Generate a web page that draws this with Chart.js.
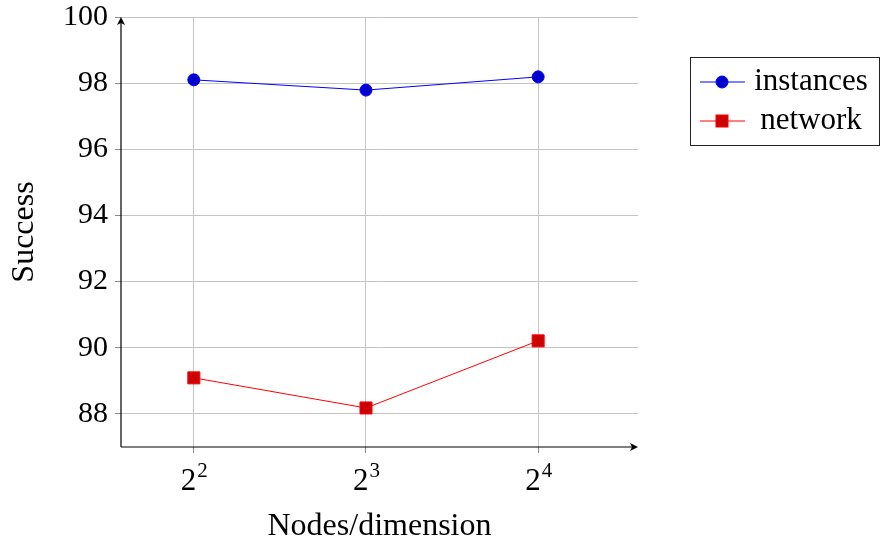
<!DOCTYPE html>
<html>
<head>
<meta charset="utf-8">
<script src="https://cdn.jsdelivr.net/npm/chart.js@4"></script>
<style>
    html, body { margin: 0; padding: 0; background: #fff; }
</style>
</head>
<body>
<canvas id="success-chart" width="880" height="547"></canvas>
<script>
// x is the exponent: nodes/dimension = 2^x
const xValues = [2, 3, 4];
const xTickBases = ['2', '2', '2'];
const xTickExponents = ['2', '3', '4'];
const yTicks = [88, 90, 92, 94, 96, 98, 100];
const instancesValues = [98.1, 97.79, 98.19];
const networkValues = [89.09, 88.18, 90.21];
const seriesLabels = ['instances', 'network'];

const FONT = '"Liberation Serif", "Times New Roman", serif';

function arrowHead (ctx, x, y, dir) {
    // small stealth-like arrow pointing "up" or "right"
    ctx.beginPath();
    if (dir === 'up') {
        ctx.moveTo(x, y);
        ctx.lineTo(x - 4, y + 8);
        ctx.lineTo(x, y + 6);
        ctx.lineTo(x + 4, y + 8);
    } else {
        ctx.moveTo(x, y);
        ctx.lineTo(x - 8, y - 4);
        ctx.lineTo(x - 6, y);
        ctx.lineTo(x - 8, y + 4);
    }
    ctx.closePath();
    ctx.fill();
}

const axesAndLegend = {
    id: 'axesAndLegend',
    afterDraw: (chart) => {
        const ctx = chart.ctx;
        const area = chart.chartArea;
        const xScale = chart.scales.x;
        ctx.save();

        // axis lines with arrows
        ctx.strokeStyle = '#000';
        ctx.fillStyle = '#000';
        ctx.lineWidth = 1.2;
        ctx.beginPath();
        ctx.moveTo(area.left, area.bottom);
        ctx.lineTo(area.left, area.top + 2);
        ctx.moveTo(area.left, area.bottom);
        ctx.lineTo(area.right - 2, area.bottom);
        ctx.stroke();
        arrowHead(ctx, area.left, area.top, 'up');
        arrowHead(ctx, area.right, area.bottom, 'right');

        // x tick labels with exponents
        xValues.forEach((v, i) => {
            const px = xScale.getPixelForValue(v);
            ctx.font = '31px ' + FONT;
            const bw = ctx.measureText(xTickBases[i]).width;
            ctx.font = '21px ' + FONT;
            const ew = ctx.measureText(xTickExponents[i]).width;
            const left = px - (bw + ew) / 2;
            ctx.textBaseline = 'alphabetic';
            ctx.textAlign = 'left';
            ctx.font = '31px ' + FONT;
            ctx.fillText(xTickBases[i], left, area.bottom + 43);
            ctx.font = '21px ' + FONT;
            ctx.fillText(xTickExponents[i], left + bw + 1, area.bottom + 30);
        });

        // legend box
        const bx = 690.5, by = 57.5, bw = 189, bh = 88;
        ctx.lineWidth = 1;
        ctx.strokeStyle = '#222';
        ctx.strokeRect(bx, by, bw, bh);
        const rows = [82, 121];
        chart.data.datasets.forEach((ds, i) => {
            const y = rows[i];
            ctx.strokeStyle = ds.borderColor;
            ctx.lineWidth = 1;
            ctx.beginPath();
            ctx.moveTo(700, y);
            ctx.lineTo(745, y);
            ctx.stroke();
            ctx.fillStyle = ds.pointBackgroundColor;
            if (ds.pointStyle === 'circle') {
                ctx.beginPath();
                ctx.arc(722, y, 6, 0, Math.PI * 2);
                ctx.fill();
                ctx.stroke();
            } else {
                ctx.fillRect(716, y - 6, 12, 12);
                ctx.strokeRect(716, y - 6, 12, 12);
            }
            ctx.fillStyle = '#000';
            ctx.font = '31px ' + FONT;
            ctx.textAlign = 'center';
            ctx.textBaseline = 'middle';
            ctx.fillText(ds.label, 811, y);
        });
        ctx.restore();
    }
};

Chart.defaults.font.family = FONT;
Chart.defaults.font.size = 31;
Chart.defaults.color = '#000';

new Chart(
    document.getElementById('success-chart'),
    {
        type: 'line',
        data: {
            datasets: [
                {
                    label: seriesLabels[0],
                    data: xValues.map((x, i) => ({ x: x, y: instancesValues[i] })),
                    borderColor: '#0000ff',
                    pointBackgroundColor: '#0000cc',
                    pointBorderColor: '#0000ff',
                    borderWidth: 1,
                    pointStyle: 'circle',
                    pointRadius: 6,
                    pointBorderWidth: 1
                },
                {
                    label: seriesLabels[1],
                    data: xValues.map((x, i) => ({ x: x, y: networkValues[i] })),
                    borderColor: '#ff0000',
                    pointBackgroundColor: '#cc0000',
                    pointBorderColor: '#ff0000',
                    borderWidth: 1,
                    pointStyle: 'rect',
                    pointRadius: 8.5,
                    pointBorderWidth: 1
                }
            ]
        },
        options: {
            responsive: false,
            animation: false,
            layout: {
                padding: { top: 17, right: 242, left: 0, bottom: 0 }
            },
            plugins: {
                legend: { display: false },
                tooltip: { enabled: false }
            },
            scales: {
                x: {
                    type: 'linear',
                    min: 1.577,
                    max: 4.58,
                    afterBuildTicks: (scale) => {
                        scale.ticks = xValues.map(v => ({ value: v }));
                    },
                    afterFit: (scale) => {
                        scale.height = 100;
                        scale.paddingLeft = 0;
                        scale.paddingRight = 0;
                    },
                    border: { display: false },
                    grid: {
                        color: '#c4c4c4',
                        tickColor: '#888',
                        tickLength: 6,
                        lineWidth: 1
                    },
                    ticks: {
                        callback: () => '',
                        padding: 0
                    },
                    title: {
                        display: true,
                        text: 'Nodes/dimension',
                        font: { size: 32 },
                        padding: { top: 0, bottom: 1 }
                    }
                },
                y: {
                    min: 87,
                    max: 100,
                    afterBuildTicks: (scale) => {
                        scale.ticks = yTicks.map(v => ({ value: v }));
                    },
                    afterFit: (scale) => {
                        scale.width = 121;
                        scale.paddingTop = 0;
                        scale.paddingBottom = 0;
                    },
                    border: { display: false },
                    grid: {
                        color: '#c4c4c4',
                        tickColor: '#888',
                        tickLength: 6,
                        lineWidth: 1
                    },
                    ticks: {
                        padding: 7,
                        font: { size: 30, lineHeight: 1 }
                    },
                    title: {
                        display: true,
                        text: 'Success',
                        font: { size: 32 },
                        padding: { top: 5, bottom: 0 }
                    }
                }
            }
        },
        plugins: [axesAndLegend]
    }
);
</script>
</body>
</html>
